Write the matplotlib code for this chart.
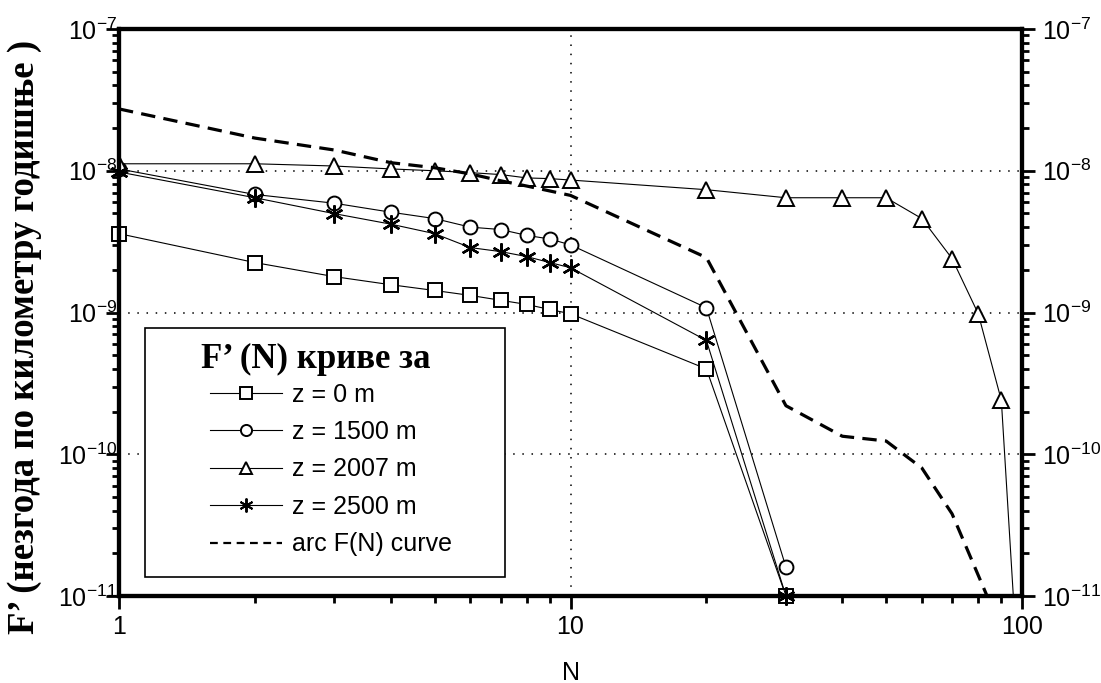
import matplotlib
matplotlib.use("Agg")
import matplotlib.pyplot as plt
from matplotlib.patches import Rectangle
from matplotlib.lines import Line2D
from matplotlib.ticker import LogLocator, LogFormatterSciNotation, NullFormatter, FixedLocator, FixedFormatter

plt.rcParams["font.family"] = "Liberation Sans"
plt.rcParams["mathtext.fontset"] = "custom"
plt.rcParams["mathtext.rm"] = "Liberation Sans"

# F'(N) values read per altitude
N_short = [1, 2, 3, 4, 5, 6, 7, 8, 9, 10, 20, 30]
F_z0 = [3.6e-9, 2.25e-9, 1.79e-9, 1.57e-9, 1.43e-9, 1.32e-9, 1.22e-9, 1.14e-9, 1.05e-9, 9.8e-10, 4.0e-10, 1.0e-11]
F_z1500 = [1.03e-8, 6.8e-9, 5.9e-9, 5.1e-9, 4.6e-9, 4.0e-9, 3.85e-9, 3.5e-9, 3.3e-9, 3.0e-9, 1.08e-9, 1.6e-11]
F_z2500 = [9.8e-9, 6.45e-9, 4.98e-9, 4.2e-9, 3.6e-9, 2.87e-9, 2.69e-9, 2.48e-9, 2.25e-9, 2.07e-9, 6.35e-10, 1.0e-11]
N_long = [1, 2, 3, 4, 5, 6, 7, 8, 9, 10, 20, 30, 40, 50, 60, 70, 80, 90, 100]
F_z2007 = [1.12e-8, 1.12e-8, 1.08e-8, 1.03e-8, 1.0e-8, 9.7e-9, 9.4e-9, 8.9e-9, 8.8e-9, 8.6e-9,
           7.35e-9, 6.45e-9, 6.45e-9, 6.45e-9, 4.6e-9, 2.4e-9, 9.8e-10, 2.4e-10, 1.0e-12]
N_arc = [1, 2, 3, 4, 5, 6, 7, 8, 9, 10, 20, 30, 40, 50, 60, 70, 80, 90]
F_arc = [2.73e-8, 1.7e-8, 1.4e-8, 1.14e-8, 1.05e-8, 9.5e-9, 8.5e-9, 7.8e-9, 7.2e-9, 6.7e-9,
         2.44e-9, 2.2e-10, 1.34e-10, 1.24e-10, 8.0e-11, 3.8e-11, 1.4e-11, 5.8e-12]

x_ticks = [1, 10, 100]
x_tick_labels = ["1", "10", "100"]
y_ticks = [1e-11, 1e-10, 1e-9, 1e-8, 1e-7]
legend_labels = ["z = 0 m", "z = 1500 m", "z = 2007 m", "z = 2500 m", "arc F(N) curve"]
legend_title = "F\u2019 (N) криве за"
y_label = "F\u2019 (незгода по километру годишње )"

W, H = 1101, 683
fig = plt.figure(figsize=(W / 100, H / 100), dpi=100)
ax = fig.add_axes([119 / W, 1 - 596 / H, 903 / W, 567 / H])
ax.set_xscale("log"); ax.set_yscale("log")
ax.set_xlim(1, 100); ax.set_ylim(1e-11, 1e-7)

line_kw = dict(color="black", lw=0.8, mfc="white", mec="black", mew=1.4, zorder=2)
star = (6, 2, 0)
ax.plot(N_short, F_z0, marker="s", ms=9.5, clip_on=False, **line_kw)
ax.plot(N_short, F_z1500, marker="o", ms=10, **line_kw)
ax.plot(N_long, F_z2007, marker="^", ms=12, **line_kw)
ax.plot(N_short, F_z2500, marker=star, ms=13, clip_on=False,
        **{**line_kw, "mew": 1.7})
arc, = ax.plot(N_arc, F_arc, color="black", lw=2.3, zorder=2)
arc.set_dashes((4.5, 2.6))

ax.grid(True, which="major", color="black", lw=1.1, ls=(0, (1, 5)))
ax.set_axisbelow(True)

for s in ax.spines.values():
    s.set_linewidth(3)


def log_axis(yax):
    yax.set_major_locator(FixedLocator(y_ticks))
    yax.set_major_formatter(LogFormatterSciNotation())
    yax.set_minor_locator(LogLocator(base=10, subs=range(2, 10), numticks=10))
    yax.set_minor_formatter(NullFormatter())


ax.xaxis.set_major_locator(FixedLocator(x_ticks))
ax.xaxis.set_major_formatter(FixedFormatter(x_tick_labels))
ax.xaxis.set_minor_locator(LogLocator(base=10, subs=range(2, 10)))
ax.xaxis.set_minor_formatter(NullFormatter())
log_axis(ax.yaxis)
ax.tick_params(which="major", direction="out", length=9.5, width=2, labelsize=18)
ax.tick_params(which="minor", direction="out", length=5, width=2)
ax.tick_params(axis="x", which="major", pad=4.5)
ax.tick_params(axis="y", which="major", pad=-8)

ax2 = ax.twinx()
ax2.set_yscale("log"); ax2.set_ylim(1e-11, 1e-7)
for s in ax2.spines.values():
    s.set_linewidth(3)
log_axis(ax2.yaxis)
ax2.tick_params(which="major", direction="out", length=9.5, width=2, labelsize=18, pad=5)
ax2.tick_params(which="minor", direction="out", length=5, width=2)

ax.set_xlabel("N", fontsize=18)
ax.xaxis.set_label_coords(0.5, -0.114)
ax.set_ylabel(y_label, fontfamily="Liberation Serif", fontweight="bold", fontsize=26.5)
ax.yaxis.set_label_coords((42 - 119) / 903, (596 - 337) / 567)

# legend box drawn as its own white panel so the grid is hidden behind it
ax.add_patch(Rectangle((0.0288, 0.0335), 0.3987, 0.439, transform=ax.transAxes,
                       facecolor="white", edgecolor="black", lw=1.2, zorder=3))
ax.text((316 - 119) / 903, (596 - 359) / 567, legend_title, transform=ax.transAxes,
        ha="center", va="center", family="Liberation Serif", weight="bold", size=25, zorder=4)
handles = [
    Line2D([], [], marker="s", ms=8, **line_kw),
    Line2D([], [], marker="o", ms=8, **line_kw),
    Line2D([], [], marker="^", ms=9, **line_kw),
    Line2D([], [], marker=star, ms=10, **line_kw),
    Line2D([], [], color="black", lw=1.6, dashes=(3.5, 2.5)),
]
leg = ax.legend(handles, legend_labels, loc="upper center", bbox_to_anchor=(0.235, (596 - 370) / 567),
                frameon=False, fontsize=18, handlelength=2.9, handletextpad=0.4, labelspacing=0.54,
                borderpad=0)
leg.set_zorder(4)

fig.savefig("out.png", dpi=100)
